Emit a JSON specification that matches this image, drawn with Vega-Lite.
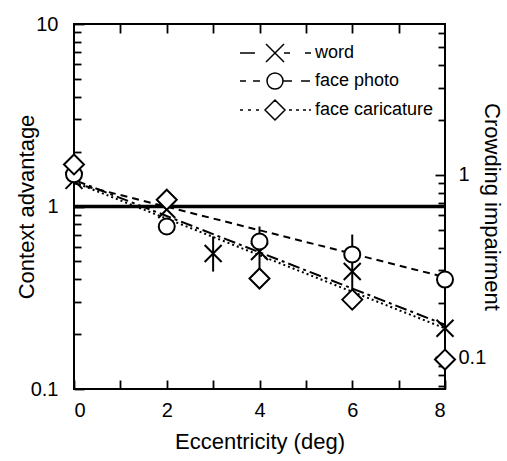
{
  "$schema": "https://vega.github.io/schema/vega-lite/v6.json",
  "width": 371,
  "height": 365,
  "autosize": {"type": "none"},
  "padding": {"left": 74, "top": 24, "right": 62, "bottom": 72},
  "config": {
    "font": "Liberation Sans",
    "view": {"stroke": "black", "strokeWidth": 2},
    "axis": {
      "domain": false, "grid": false, "tickColor": "black", "tickWidth": 1.8,
      "labelColor": "black", "titleColor": "black", "labelFontSize": 20,
      "titleFontSize": 22, "titleFontWeight": "normal", "labelFont": "Liberation Sans", "titleFont": "Liberation Sans"
    }
  },
  "datasets": {
    "pts": [
      {"series": "word", "ecc": 0, "v": 1.39},
      {"series": "word", "ecc": 2, "v": 0.963},
      {"series": "word", "ecc": 3, "v": 0.553},
      {"series": "word", "ecc": 4, "v": 0.567},
      {"series": "word", "ecc": 6, "v": 0.44},
      {"series": "word", "ecc": 8, "v": 0.215},
      {"series": "face photo", "ecc": 0, "v": 1.5},
      {"series": "face photo", "ecc": 2, "v": 0.777},
      {"series": "face photo", "ecc": 4, "v": 0.643},
      {"series": "face photo", "ecc": 6, "v": 0.546},
      {"series": "face photo", "ecc": 8, "v": 0.398},
      {"series": "face caricature", "ecc": 0, "v": 1.7},
      {"series": "face caricature", "ecc": 2, "v": 1.09},
      {"series": "face caricature", "ecc": 4, "v": 0.403},
      {"series": "face caricature", "ecc": 6, "v": 0.309},
      {"series": "face caricature", "ecc": 8, "v": 0.145}
    ],
    "errs": [
      {"series": "word", "ecc": 3, "v": 0.44, "v2": 0.685},
      {"series": "word", "ecc": 4, "v": 0.457, "v2": 0.777},
      {"series": "word", "ecc": 6, "v": 0.351, "v2": 0.702}
    ],
    "fits": [
      {"series": "word", "ecc": 0, "v": 1.4},
      {"series": "word", "ecc": 8, "v": 0.225},
      {"series": "face photo", "ecc": 0, "v": 1.34},
      {"series": "face photo", "ecc": 8, "v": 0.41},
      {"series": "face caricature", "ecc": 0, "v": 1.36},
      {"series": "face caricature", "ecc": 8, "v": 0.215}
    ],
    "unity": [
      {"ecc": 0, "v": 1},
      {"ecc": 8, "v": 1}
    ],
    "right": [
      {"ecc": 0, "ci": 1}
    ]
  },
  "layer": [
    {
      "encoding": {
        "x": {
          "field": "ecc", "type": "quantitative",
          "scale": {"domain": [0, 8], "nice": false, "zero": false},
          "axis": {
            "title": "Eccentricity (deg)", "orient": "bottom",
            "values": [0, 1, 2, 3, 4, 5, 6, 7, 8],
            "labelExpr": "datum.value % 2 == 0 ? datum.label : ''",
            "tickSize": -9, "labelPadding": 20, "titlePadding": 11
          }
        },
        "y": {
          "field": "v", "type": "quantitative",
          "scale": {"type": "log", "domain": [0.1, 10], "nice": false},
          "axis": {
            "title": "Context advantage", "orient": "left",
            "values": [0.1, 0.2, 0.3, 0.4, 0.5, 0.6, 0.7, 0.8, 0.9, 1, 2, 3, 4, 5, 6, 7, 8, 9, 10],
            "labelExpr": "datum.value == 10 ? '10' : datum.value == 1 ? '1' : datum.value == 0.1 ? '0.1' : ''",
            "tickSize": {"condition": {"test": "datum.value == 1 || datum.value == 10 || datum.value == 0.1", "value": -10}, "value": -7},
            "labelPadding": 26, "titlePadding": -8
          }
        }
      },
      "layer": [
        {
          "data": {"name": "unity"},
          "mark": {"type": "line", "stroke": "black", "strokeWidth": 3.5}
        },
        {
          "data": {"name": "fits"},
          "mark": {"type": "line", "stroke": "black", "strokeWidth": 2},
          "encoding": {
            "detail": {"field": "series"},
            "strokeDash": {
              "field": "series", "type": "nominal",
              "scale": {"domain": ["word", "face photo", "face caricature"], "range": [[12, 4, 3, 4], [7, 5], [2, 3]]},
              "legend": null
            }
          }
        },
        {
          "data": {"name": "errs"},
          "mark": {"type": "rule", "stroke": "black", "strokeWidth": 2},
          "encoding": {"y2": {"field": "v2"}}
        },
        {
          "data": {"name": "pts"},
          "mark": {"type": "point", "filled": true, "fill": "white", "stroke": "black", "strokeWidth": 2, "size": 400, "opacity": 1},
          "encoding": {
            "shape": {
              "field": "series", "type": "nominal",
              "scale": {
                "domain": ["word", "face photo", "face caricature"],
                "range": [
                  "M-0.85,-0.85L0.85,0.85M-0.85,0.85L0.85,-0.85",
                  "M0.8,0A0.8,0.8 0 1,1 -0.8,0A0.8,0.8 0 1,1 0.8,0Z",
                  "M-1,0L0,-1L1,0L0,1Z"
                ]
              },
              "legend": null
            }
          }
        },
        {
          "data": {"name": "pts"},
          "mark": {"type": "point", "filled": true, "fill": "white", "stroke": "black", "strokeWidth": 2, "size": 400, "opacity": 0},
          "encoding": {
            "shape": {
              "field": "series", "type": "nominal",
              "scale": {
                "domain": ["word", "face photo", "face caricature"],
                "range": [
                  "M-3.5,0H-2.0M-0.9,-0.9L0.9,0.9M-0.9,0.9L0.9,-0.9M0.9,0H1.5M3.0,0H3.6",
                  "M-3.5,0H-2.9M-2.2,0H-1.5M-0.8,0A0.8,0.8 0 1,1 0.8,0A0.8,0.8 0 1,1 -0.8,0M0.8,0H1.7M2.6,0H3.5",
                  "M-3.5,0H-3.2M-2.7,0H-2.4M-1.9,0H-1.6M-1,0L0,-1L1,0L0,1ZM1.4,0H1.7M2.1,0H2.4M2.8,0H3.1M3.4,0H3.6"
                ]
              },
              "legend": {
                "title": null, "orient": "none", "legendX": 190, "legendY": 18,
                "padding": 0, "symbolSize": 400, "labelFontSize": 18, "labelColor": "black",
                "labelFont": "Liberation Sans", "labelOffset": 29, "rowPadding": 5,
                "encode": {"symbols": {"update": {"fill": {"value": "white"}, "stroke": {"value": "black"}, "strokeWidth": {"value": 2}, "opacity": {"value": 1}}}}
              }
            }
          }
        }
      ],
      "resolve": {"scale": {"shape": "independent"}}
    },
    {
      "data": {"name": "right"},
      "mark": {"type": "point", "opacity": 0},
      "encoding": {
        "x": {
          "field": "ecc", "type": "quantitative",
          "scale": {"domain": [0, 8], "nice": false, "zero": false},
          "axis": {
            "title": null, "orient": "top", "labels": false,
            "values": [1, 2, 3, 4, 5, 6, 7], "tickSize": -9
          }
        },
        "y": {
          "field": "ci", "type": "quantitative",
          "scale": {"type": "log", "domain": [0.0672, 6.72], "nice": false},
          "axis": {
            "title": "Crowding impairment", "orient": "right",
            "values": [0.07, 0.08, 0.09, 0.1, 0.2, 0.3, 0.4, 0.5, 0.6, 0.7, 0.8, 0.9, 1, 2, 3, 4, 5, 6],
            "labelExpr": "datum.value == 1 ? '1' : datum.value == 0.1 ? '0.1' : ''",
            "tickSize": {"condition": {"test": "datum.value == 1 || datum.value == 0.1", "value": -10}, "value": -7},
            "labelPadding": 23, "titlePadding": -6
          }
        }
      }
    }
  ],
  "resolve": {"scale": {"y": "independent"}, "axis": {"x": "independent", "y": "independent"}}
}
